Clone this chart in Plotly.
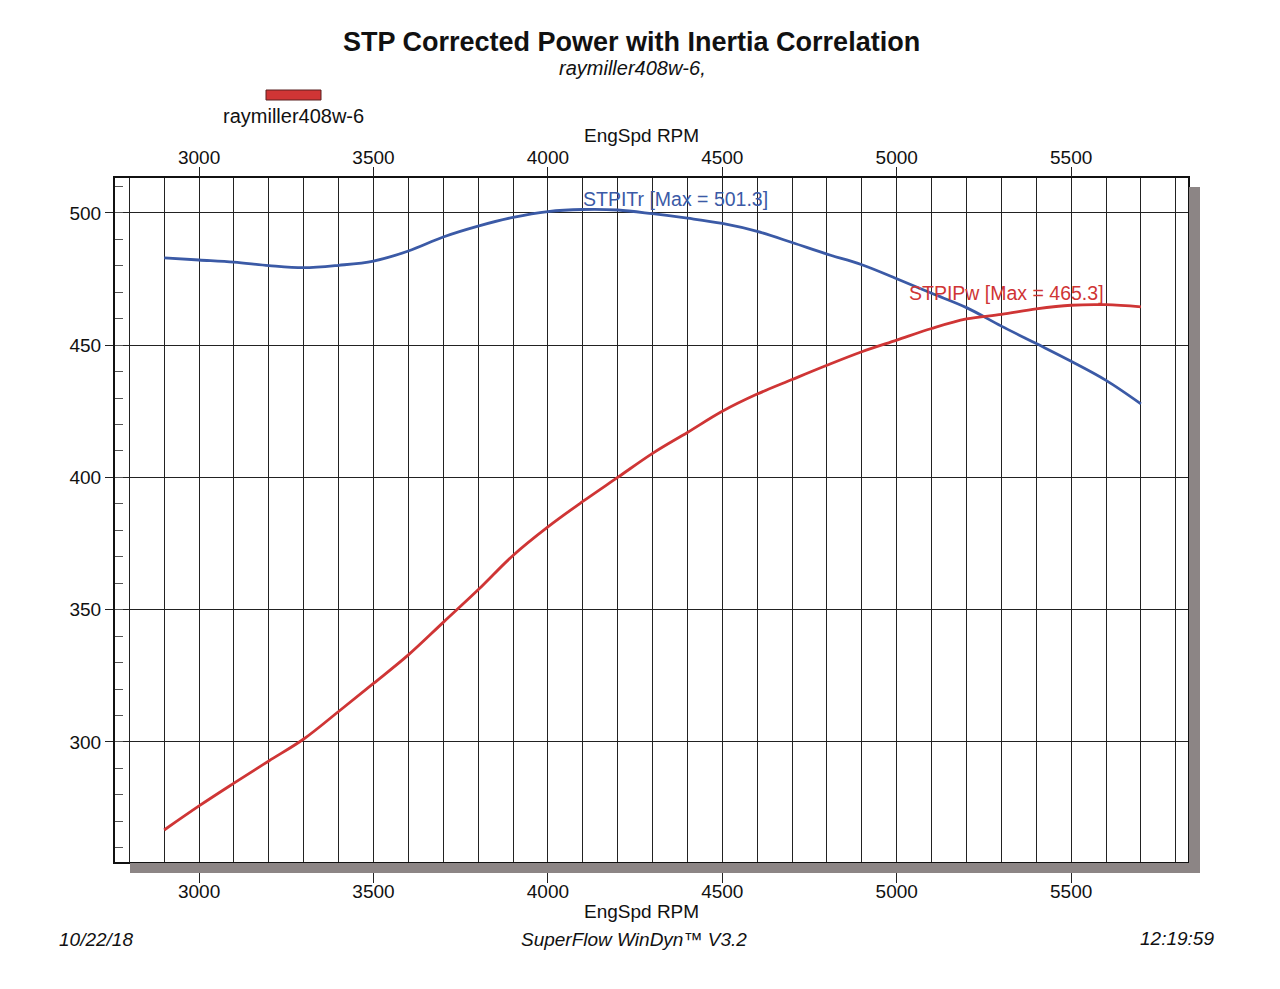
import plotly.graph_objects as go

rpm = [2900, 3000, 3100, 3200, 3300, 3400, 3500, 3600, 3700, 3800, 3900, 4000, 4100, 4200, 4300,
       4400, 4500, 4600, 4700, 4800, 4900, 5000, 5100, 5200, 5300, 5400, 5500, 5600, 5700]
torque = [483.0, 482.2, 481.4, 480.1, 479.3, 480.2, 481.8, 485.6, 490.9, 495.0, 498.3, 500.5, 501.3, 501.1, 499.7,
          498.0, 496.0, 493.0, 488.8, 484.4, 480.4, 475.1, 469.6, 464.2, 457.2, 450.6, 443.9, 436.7, 427.8]
power = [266.7, 275.8, 284.4, 292.8, 301.1, 311.5, 322.1, 332.9, 345.2, 357.5, 370.5, 381.3, 390.9, 400.0, 409.1,
         417.0, 425.0, 431.5, 437.0, 442.4, 447.5, 451.9, 456.3, 459.9, 461.6, 463.7, 465.1, 465.3, 464.5]

x_ticks = [3000, 3500, 4000, 4500, 5000, 5500]
y_ticks = [300, 350, 400, 450, 500]
x_range = [2759, 5835]
y_range = [254.6, 513.2]

title = "STP Corrected Power with Inertia Correlation"
subtitle = "raymiller408w-6,"
run_name = "raymiller408w-6"
x_title = "EngSpd RPM"
torque_label = "STPITr [Max = 501.3]"
power_label = "STPIPw [Max = 465.3]"

BLUE = "#3b5aa6"
RED = "#cf3535"
FONT = "Liberation Sans, Arial, sans-serif"

W, H = 1280, 989
L, R, T, B = 115, 1188, 178, 862


def px(xp):
    return (xp - L) / (R - L)


def py(yp):
    return (B - yp) / (B - T)


fig = go.Figure()
fig.add_trace(go.Scatter(x=rpm, y=torque, mode="lines", line=dict(color=BLUE, width=2.8, shape="spline"),
                         showlegend=False, hoverinfo="skip"))
fig.add_trace(go.Scatter(x=rpm, y=power, mode="lines", line=dict(color=RED, width=2.8, shape="spline"),
                         showlegend=False, hoverinfo="skip"))
# invisible trace for top axis
fig.add_trace(go.Scatter(x=rpm, y=power, xaxis="x2", mode="lines", line=dict(width=0),
                         opacity=0, showlegend=False, hoverinfo="skip"))

axis_font = dict(family=FONT, size=19, color="#111")

fig.update_layout(
    width=W, height=H,
    margin=dict(l=L, r=W - R, t=T, b=H - B),
    paper_bgcolor="white", plot_bgcolor="white",
    font=dict(family=FONT, color="#111"),
    xaxis=dict(range=x_range, tickvals=x_ticks, ticks="outside", ticklen=19, tickcolor="#222",
               ticklabelstandoff=-8,
               tickfont=axis_font, showgrid=True, gridcolor="#222", gridwidth=1,
               minor=dict(dtick=100, tick0=0, showgrid=True, gridcolor="#222", gridwidth=1),
               showline=True, linecolor="#111", linewidth=2, mirror=True, zeroline=False),
    xaxis2=dict(range=x_range, tickvals=x_ticks, overlaying="x", side="top", anchor="y",
                ticks="outside", ticklen=10, tickcolor="#222", tickfont=axis_font, showgrid=False,
                ticklabelstandoff=-5, zeroline=False),
    yaxis=dict(range=y_range, tickvals=y_ticks, ticks="outside", ticklen=8, tickcolor="#222",
               tickfont=axis_font, showgrid=True, gridcolor="#222", gridwidth=1,
               minor=dict(dtick=10, tick0=0, ticks="inside", ticklen=8, tickcolor="#555", showgrid=False),
               showline=True, linecolor="#111", linewidth=2, mirror=True, zeroline=False),
)

shadow = "#8c8585"
fig.add_shape(type="rect", xref="paper", yref="paper", x0=px(130), x1=px(1200), y0=py(873), y1=py(863),
              fillcolor=shadow, line=dict(width=0), layer="above")
fig.add_shape(type="rect", xref="paper", yref="paper", x0=px(1189), x1=px(1200), y0=py(873), y1=py(187),
              fillcolor=shadow, line=dict(width=0), layer="above")

# legend swatch
fig.add_shape(type="rect", xref="paper", yref="paper", x0=px(266), x1=px(321), y0=py(100), y1=py(90),
              fillcolor=RED, line=dict(color="#5a2020", width=1))

ann = []
ann.append(dict(text="<b>" + title + "</b>", x=px(631), y=py(42), xref="paper", yref="paper",
                showarrow=False, font=dict(family=FONT, size=27, color="#111"), xanchor="center", yanchor="middle"))
ann.append(dict(text="<i>" + subtitle + "</i>", x=px(632), y=py(68), xref="paper", yref="paper",
                showarrow=False, font=dict(family=FONT, size=20, color="#111"), xanchor="center", yanchor="middle"))
ann.append(dict(text=run_name, x=px(293), y=py(116), xref="paper", yref="paper",
                showarrow=False, font=dict(family=FONT, size=20, color="#111"), xanchor="center", yanchor="middle"))
ann.append(dict(text=x_title, x=px(641), y=py(135), xref="paper", yref="paper",
                showarrow=False, font=axis_font, xanchor="center", yanchor="middle"))
ann.append(dict(text=x_title, x=px(641), y=py(911), xref="paper", yref="paper",
                showarrow=False, font=axis_font, xanchor="center", yanchor="middle"))
ann.append(dict(text=torque_label, x=4367, y=505.3, xref="x", yref="y", showarrow=False,
                font=dict(family=FONT, size=19.5, color=BLUE), xanchor="center", yanchor="middle"))
ann.append(dict(text=power_label, x=5316, y=469.8, xref="x", yref="y", showarrow=False,
                font=dict(family=FONT, size=19.5, color=RED), xanchor="center", yanchor="middle"))
ann.append(dict(text="<i>10/22/18</i>", x=px(57), y=py(940), xref="paper", yref="paper", showarrow=False,
                font=dict(family=FONT, size=19, color="#111"), xanchor="left", yanchor="middle"))
ann.append(dict(text="<i>SuperFlow WinDyn™ V3.2</i>", x=px(634), y=py(940), xref="paper", yref="paper",
                showarrow=False, font=dict(family=FONT, size=19, color="#111"), xanchor="center", yanchor="middle"))
ann.append(dict(text="<i>12:19:59</i>", x=px(1216), y=py(938), xref="paper", yref="paper", showarrow=False,
                font=dict(family=FONT, size=19, color="#111"), xanchor="right", yanchor="middle"))
fig.update_layout(annotations=ann)

fig.write_html("out.html")
